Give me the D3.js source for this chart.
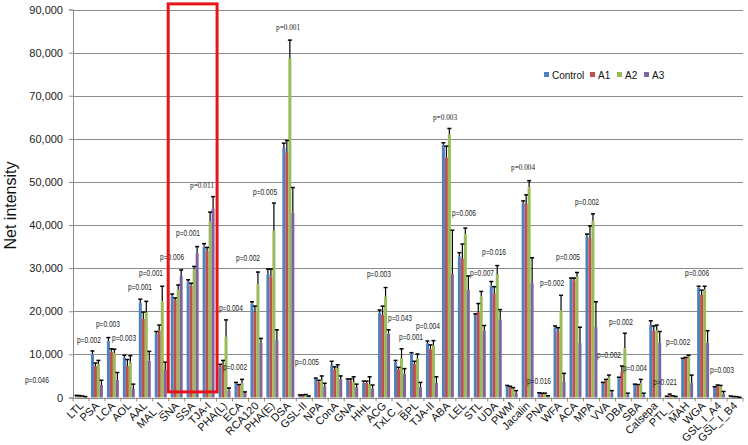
<!DOCTYPE html>
<html>
<head>
<meta charset="utf-8">
<script src="https://cdnjs.cloudflare.com/ajax/libs/d3/7.8.5/d3.min.js"></script>
<style>
  body { margin: 0; background: #fff; }
  svg { display: block; font-family: "Liberation Sans", Arial, sans-serif; }
</style>
</head>
<body>
<svg id="chart" width="748" height="445"></svg>
<script>
// lectin names on the x axis
var categories = ["LTL","PSA","LCA","AOL","AAL","MAL_I","SNA","SSA","TJA-I","PHA(L)","ECA","RCA120","PHA(E)","DSA","GSL-II","NPA","ConA","GNA","HHL","ACG","TxLC_I","BPL","TJA-II","ABA","LEL","STL","UDA","PWM","Jacalin","PNA","WFA","ACA","MPA","VVA","DBA","SBA","Calsepa","PTL_I","MAH","WGA","GSL_I_A4","GSL_I_B4"];
var seriesNames = ["Control","A1","A2","A3"];

// mean net intensity per group
var control = [400,10100,13100,9300,22000,14800,23500,26800,35000,7200,3300,21800,28600,57900,500,4300,7500,4000,3400,19700,8200,10100,12600,58600,32700,19100,25900,2700,45100,1000,16200,27400,37300,3300,4500,2900,16800,200,8900,25500,2400,300];
var a1 = [350,7300,10600,7300,18200,15600,22600,25900,34000,7600,2700,19900,28100,56800,500,3700,6600,3900,3400,19200,6500,7800,11200,55700,32300,19900,24200,2400,44900,900,15200,27200,36900,3900,6000,2700,15500,600,9100,23800,2600,200];
var a2 = [300,7800,10400,8200,19800,22300,25000,29800,40800,14100,3300,26300,38700,78700,600,4000,6800,3600,3100,23400,9200,9100,12200,61100,37900,23400,28600,2000,48800,900,20100,28000,41000,4700,11400,3300,15600,300,9500,25100,2600,150];
var a3 = [150,2900,4100,2000,8500,6400,28200,33500,43800,1600,1000,12700,13300,42900,300,2600,4200,2400,2100,14800,5500,2400,3400,28600,24900,15500,18100,1000,26500,300,3600,12600,16300,1000,600,600,12700,200,3300,12700,900,50];

// error bar (SD) per group
var controlErr = [100,700,800,500,800,500,500,500,700,500,200,400,1200,1100,100,200,900,300,400,600,400,300,500,500,900,300,1000,100,500,100,400,300,600,200,200,200,1000,100,200,300,100,50];
var a1Err = [100,700,700,1500,1600,1200,500,600,800,1000,300,1300,1700,2800,100,300,500,400,400,2000,500,600,1000,2600,3300,1900,1500,200,2100,100,1000,500,2900,300,1300,300,1100,200,200,1100,300,50];
var a2Err = [50,800,800,1500,2500,3500,1100,600,2200,3900,900,2800,6400,4200,100,1000,800,1200,1700,2100,2100,1000,1000,1300,1400,1200,2000,300,1500,100,3600,1000,1600,500,3500,900,1200,100,300,700,200,50];
var a3Err = [50,1100,1700,1100,2200,1800,1400,1500,2800,600,300,1000,2400,5800,50,700,800,700,800,900,1200,1100,1400,10200,3300,1200,2300,600,5900,100,2000,3700,5900,600,400,400,2600,50,1900,2800,500,20];

// p-value notes: text, position in category units, position in value units
var pText = ["p=0.046","p=0.002","p=0.003","p=0.003","p=0.001","p=0.001","p=0.006","p=0.001","p=0.011","p=0.004","p=0.002","p=0.002","p=0.005","p=0.001","p=0.005","p=0.003","p=0.043","p=0.001","p=0.004","p=0.003","p=0.006","p=0.007","p=0.016","p=0.004","p=0.016","p=0.002","p=0.005","p=0.002","p=0.002","p=0.002","p=0.004","p=0.021","p=0.002","p=0.006","p=0.003"];
var pAt = [-2.26,1.0,2.19,3.2,4.2,4.89,6.21,7.21,8.09,9.9,10.16,10.97,12.04,13.48,14.67,19.18,20.5,21.19,22.25,23.32,24.51,25.64,26.39,28.21,29.21,30.03,31.03,32.22,33.6,34.35,35.23,37.11,37.93,39.12,40.68];
var pVal = [4060,13340,17050,13800,25630,28880,32590,38160,49290,20760,7070,32360,47670,85940,8230,28650,18440,14030,16590,65070,42800,28880,33750,53470,3830,26560,32590,45350,9860,17510,6840,3600,12870,28880,6380];
var pSerif = [8, 13, 19, 23];

var yTicks = [0,10000,20000,30000,40000,50000,60000,70000,80000,90000];

var colors = ["#4F81BD","#C0504D","#9BBB59","#8064A2"];
var values = [control, a1, a2, a3];
var errs = [controlErr, a1Err, a2Err, a3Err];

var svg = d3.select("#chart");
var plotLeft = 73, plotRight = 743, plotTop = 9.5, plotBottom = 397.5;

var x = d3.scaleBand().domain(categories).range([plotLeft, plotRight]).padding(0);
var xs = d3.scaleBand().domain(seriesNames).range([x.bandwidth() * 0.125, x.bandwidth() * 0.875]).padding(0);
var xi = d3.scaleLinear().domain([0, categories.length]).range([plotLeft, plotRight]);
var y = d3.scaleLinear().domain([0, 90000]).range([plotBottom, plotTop]);

// grid
svg.append("g")
  .selectAll("line")
  .data(yTicks.slice(1))
  .join("line")
  .attr("x1", plotLeft).attr("x2", plotRight)
  .attr("y1", function(d) { return Math.round(y(d)) + 0.5; })
  .attr("y2", function(d) { return Math.round(y(d)) + 0.5; })
  .attr("stroke", "#8c8c8c")
  .attr("stroke-width", 1);

// y axis
var yAxis = svg.append("g")
  .attr("transform", "translate(" + plotLeft + ",0)")
  .call(d3.axisLeft(y).tickValues(yTicks).tickFormat(d3.format(",")).tickSize(4).tickPadding(6));
yAxis.selectAll("text").attr("font-size", 11).attr("fill", "#222").attr("font-family", "Liberation Sans, Arial");
yAxis.selectAll("line").attr("stroke", "#8c8c8c");
yAxis.select(".domain").attr("stroke", "#8c8c8c");

svg.append("text")
  .attr("transform", "translate(16," + (y(45000) + 2) + ") rotate(-90)")
  .attr("text-anchor", "middle")
  .attr("font-size", 16)
  .attr("fill", "#111")
  .text("Net intensity");

// bars
var groups = svg.append("g")
  .selectAll("g")
  .data(categories)
  .join("g")
  .attr("transform", function(d) { return "translate(" + x(d) + ",0)"; });

seriesNames.forEach(function(s, k) {
  groups.append("rect")
    .attr("x", xs(s))
    .attr("y", function(d, i) { return y(values[k][i]); })
    .attr("width", xs.bandwidth())
    .attr("height", function(d, i) { return y(0) - y(values[k][i]); })
    .attr("fill", colors[k]);
});

// error bars
seriesNames.forEach(function(s, k) {
  var cx = xs(s) + xs.bandwidth() / 2;
  groups.append("line")
    .attr("x1", cx).attr("x2", cx)
    .attr("y1", function(d, i) { return y(values[k][i]); })
    .attr("y2", function(d, i) { return y(values[k][i] + errs[k][i]); })
    .attr("stroke", "#000").attr("stroke-width", 1.2);
  groups.append("line")
    .attr("x1", cx - 2).attr("x2", cx + 2)
    .attr("y1", function(d, i) { return y(values[k][i] + errs[k][i]); })
    .attr("y2", function(d, i) { return y(values[k][i] + errs[k][i]); })
    .attr("stroke", "#000").attr("stroke-width", 1.5);
});

// x axis
svg.append("line")
  .attr("x1", plotLeft).attr("x2", plotRight)
  .attr("y1", Math.round(y(0)) + 0.5).attr("y2", Math.round(y(0)) + 0.5)
  .attr("stroke", "#8c8c8c");
svg.append("g")
  .selectAll("line")
  .data(d3.range(categories.length + 1))
  .join("line")
  .attr("x1", function(d) { return xi(d); })
  .attr("x2", function(d) { return xi(d); })
  .attr("y1", y(0)).attr("y2", y(0) + 4)
  .attr("stroke", "#8c8c8c");

svg.append("g")
  .selectAll("text")
  .data(categories)
  .join("text")
  .attr("transform", function(d) {
    return "translate(" + (x(d) + x.bandwidth() / 2 + 3) + "," + (y(0) + 9) + ") rotate(-45)";
  })
  .attr("text-anchor", "end")
  .attr("font-size", 11)
  .attr("fill", "#111")
  .text(function(d) { return d; });

// p-value notes
svg.append("g")
  .selectAll("text")
  .data(pText)
  .join("text")
  .attr("x", function(d, i) { return xi(pAt[i]); })
  .attr("y", function(d, i) { return y(pVal[i]); })
  .attr("dy", "0.35em")
  .attr("text-anchor", "middle")
  .attr("font-size", 8.5)
  .attr("fill", "#222")
  .attr("font-family", function(d, i) {
    return pSerif.indexOf(i) >= 0 ? "Liberation Serif, serif" : "Liberation Sans, Arial";
  })
  .attr("textLength", 24)
  .attr("lengthAdjust", "spacingAndGlyphs")
  .text(function(d) { return d; });

// legend
var legend = svg.append("g").attr("transform", "translate(544,75)");
var legendX = [0, 46, 73, 100];
seriesNames.forEach(function(s, k) {
  legend.append("rect")
    .attr("x", legendX[k]).attr("y", -3)
    .attr("width", 5).attr("height", 5)
    .attr("fill", colors[k]);
  legend.append("text")
    .attr("x", legendX[k] + 8).attr("y", 0)
    .attr("dy", "0.35em")
    .attr("font-size", 10)
    .attr("fill", "#111")
    .text(s);
});

// red highlight box around SNA, SSA, TJA-I
svg.append("rect")
  .attr("x", x("SNA") - 0.5)
  .attr("y", y(91300))
  .attr("width", x("TJA-I") + x.bandwidth() - x("SNA") + 1)
  .attr("height", y(1300) - y(91300))
  .attr("fill", "none")
  .attr("stroke", "#e8141b")
  .attr("stroke-width", 3);
</script>
</body>
</html>
